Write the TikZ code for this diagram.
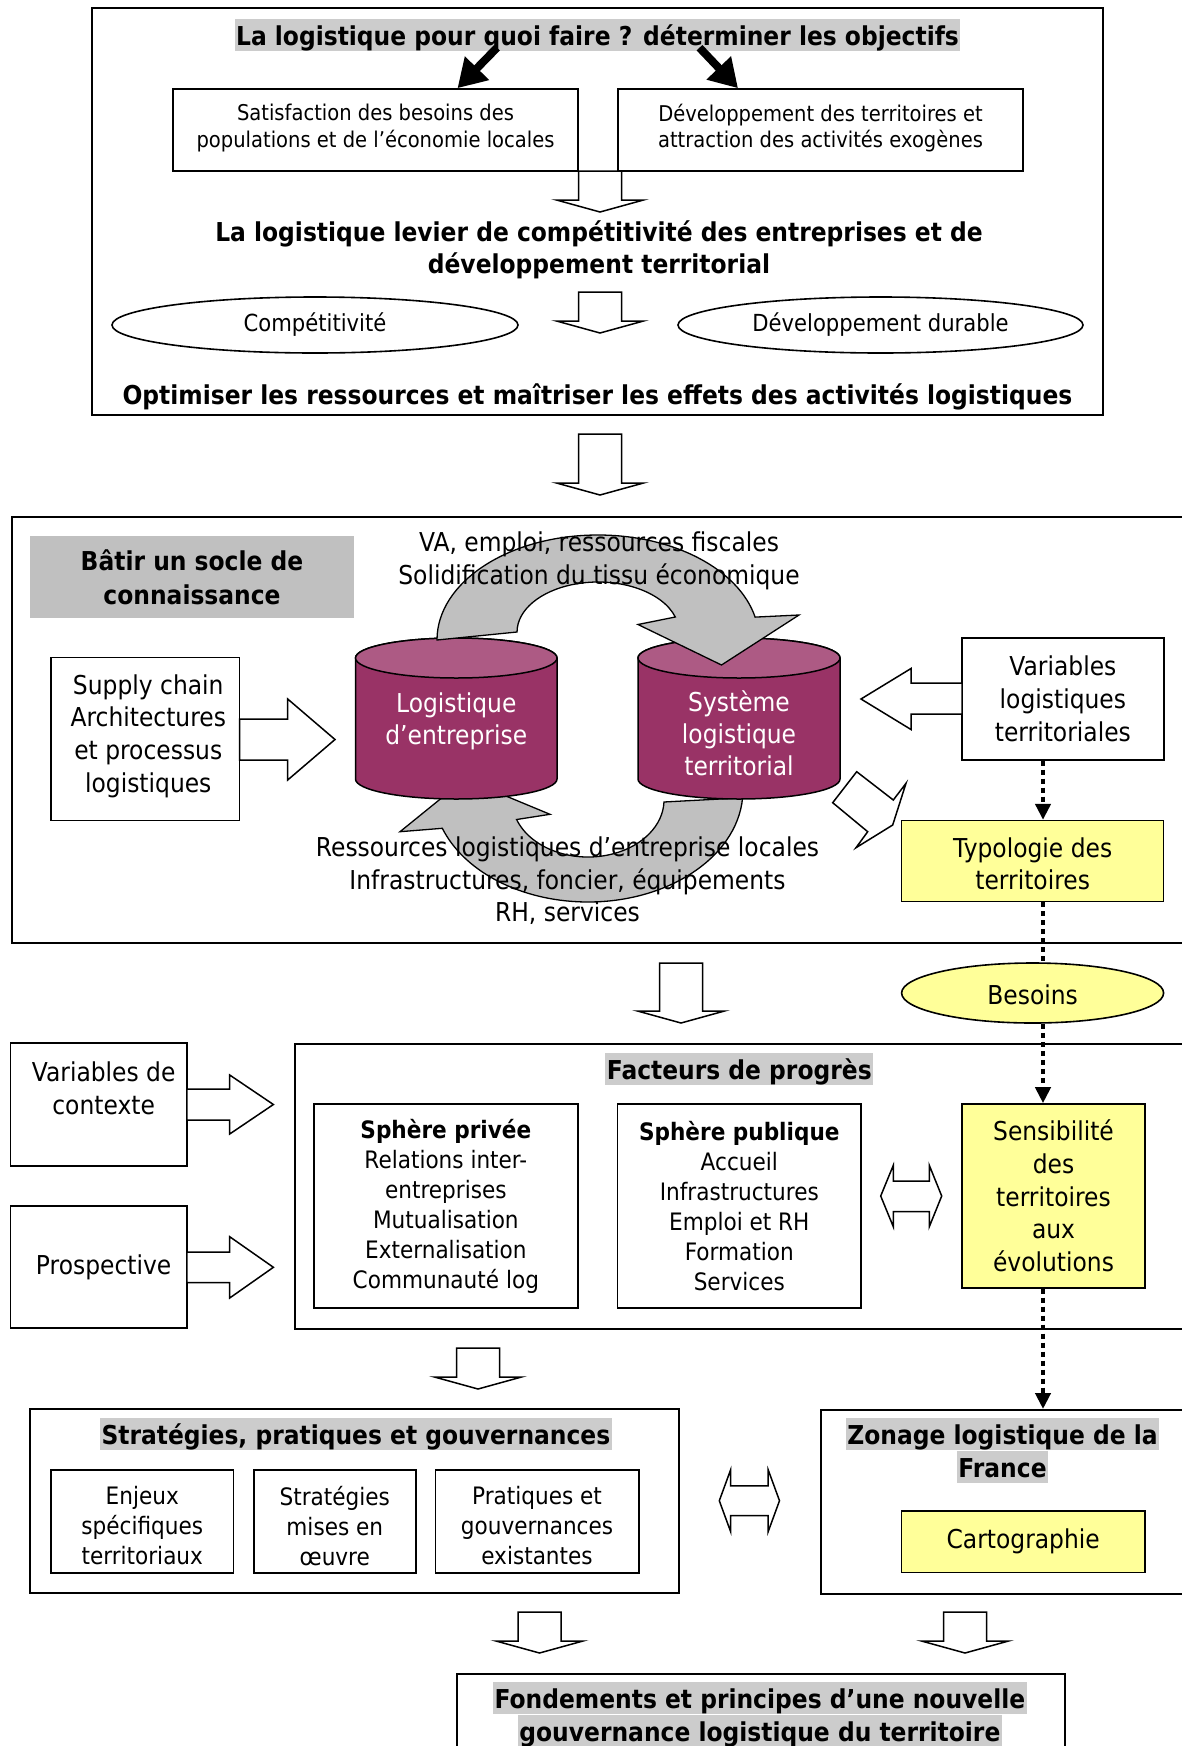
\documentclass[tikz,border=0pt]{standalone}
\usepackage{fontspec}
\setmainfont{DejaVu Sans}[FakeStretch=0.9]
\usetikzlibrary{positioning,arrows.meta,shapes.geometric,calc}

\definecolor{plum}{HTML}{993366}
\definecolor{plumtop}{HTML}{AD5A84}
\definecolor{paleyellow}{HTML}{FFFF99}
\definecolor{swirlgray}{HTML}{C0C0C0}
\definecolor{hlgray}{HTML}{CCCCCC}

\begin{document}
\begin{tikzpicture}[x=1pt,y=-1pt,
  panel/.style={draw,line width=2pt,inner sep=0pt},
  box/.style={draw,line width=1.6pt,align=center,inner sep=0pt,font=\fontsize{26}{32.6}\selectfont},
  smallbox/.style={box,font=\fontsize{21.7}{26.7}\selectfont},
  listbox/.style={box,font=\fontsize{24}{30}\selectfont},
  yellowbox/.style={box,fill=paleyellow},
  oval/.style={box,ellipse},
  inner text/.style={draw=none,fill=none,minimum size=0pt},
  hl/.style={fill=hlgray,inner xsep=1.5pt,inner ysep=2pt,text height=24.5pt,text depth=3.5pt,
    font=\fontsize{26}{31}\selectfont\bfseries},
  heading/.style={align=center,inner sep=0pt,font=\fontsize{26}{32.3}\selectfont\bfseries},
  txt/.style={align=center,inner sep=0pt,font=\fontsize{26}{32.6}\selectfont},
  cyltext/.style={txt,text=white,font=\fontsize{26}{32}\selectfont},
  block/.style={draw,fill=white,line width=1.5pt,line join=miter},
  swirl/.style={draw,fill=swirlgray,line width=1.3pt},
  cylinder body/.style={fill=plum,draw,line width=1.5pt},
  dotline/.style={line width=4pt,dash pattern=on 5pt off 4pt},
  dotarrow/.style={dotline,-{Triangle[length=16pt,width=15pt]}},
  fat/.style={line width=8pt,-{Triangle[length=28pt,width=32pt]}},
  pics/down arrow/.style={code={
    \path[block] (-21.5,0) -- (21.5,0) -- (21.5,#1-12) -- (43.5,#1-12) -- (0,#1)
      -- (-43.5,#1-12) -- (-21.5,#1-12) -- cycle;}}]

  \useasboundingbox (0,0) rectangle (1181,1746);

  % objectifs
  \node[panel,minimum width=1011pt,minimum height=407pt] (objectifs) at (597.5,211.5) {};
  \node[hl] (quoi) at (597.5,34.5) {La logistique pour quoi faire ? déterminer les objectifs};
  \node[smallbox,minimum width=405pt,minimum height=82pt] (besoinsloc) at (375.5,130) {};
  \node[smallbox,inner text,yshift=2pt] at (besoinsloc)
    {Satisfaction des besoins des\\populations et de l’économie locales};
  \node[smallbox,minimum width=405pt,minimum height=82pt] (attract) at (820.5,130) {};
  \node[smallbox,inner text,yshift=2pt] at (attract)
    {Développement des territoires et\\attraction des activités exogènes};
  \draw[fat] ($(quoi.south)+(-100.5,-3)$) -- ($(besoinsloc.north)+(82,0)$);
  \draw[fat] ($(quoi.south)+(102,-3)$) -- ($(attract.north)+(-82.5,0)$);
  \pic at (600,171) {down arrow=41};
  \node[heading] (levier) at (599,250)
    {La logistique levier de compétitivité des entreprises et de\\développement territorial};
  \pic at (600,292) {down arrow=41};
  \node[oval,font=\fontsize{23.5}{28}\selectfont,minimum width=406pt,minimum height=56pt]
    (compet) at (315,325) {Compétitivité};
  \node[oval,font=\fontsize{23.5}{28}\selectfont,minimum width=405pt,minimum height=56pt]
    (durable) at (880.5,325) {Développement durable};
  \node[heading] (optim) at (597.5,396.5)
    {Optimiser les ressources et maîtriser les effets des activités logistiques};

  \pic at (600,434) {down arrow=61};

  % socle de connaissance
  \node[panel,anchor=north west,minimum width=1200pt,minimum height=426.3pt] (socle) at (10.5,515.7) {};
  \node[heading,fill=swirlgray,font=\fontsize{26}{34}\selectfont\bfseries,
    minimum width=324pt,minimum height=82pt] (batir) at (192,577) {Bâtir un socle de\\connaissance};
  \node[box,minimum width=188.5pt,minimum height=163pt] (supply) at (145.25,739) {};
  \node[box,inner text,yshift=3pt,xshift=3pt] at (supply)
    {Supply chain\\Architectures\\et processus\\logistiques};
  \path[block] (239.5,719) -- (287.7,719) -- (287.7,699) -- (335,739.5) -- (287.7,780)
    -- (287.7,760) -- (239.5,760) -- cycle;
  \node[box,minimum width=201.7pt,minimum height=121.7pt] (varlog) at (1062.85,698.85)
    {Variables\\logistiques\\territoriales};
  \path[block] (962,683) -- (911,683) -- (911,668.5) -- (861,699) -- (911,729.5)
    -- (911,714) -- (962,714) -- cycle;

  % lower swirl, behind the cylinders
  \path[swirl] (742.6,797.8) arc[start angle=-4,end angle=-160,x radius=155pt,y radius=112pt]
    -- (400,831.7) -- (465,779) -- (550,814.3) -- (516.6,819.5)
    arc[start angle=-160,end angle=-2,x radius=76pt,y radius=57pt] -- cycle;

  % cylinders
  \path[cylinder body] (355.5,658) -- (355.5,779)
    arc[start angle=180,end angle=360,x radius=100.75pt,y radius=20pt] -- (557,658)
    arc[start angle=0,end angle=180,x radius=100.75pt,y radius=20pt] -- cycle;
  \filldraw[fill=plumtop,line width=1.5pt] (456.25,658) ellipse[x radius=100.75pt,y radius=20pt];
  \path[cylinder body] (638,658) -- (638,779)
    arc[start angle=180,end angle=360,x radius=101pt,y radius=20pt] -- (840,658)
    arc[start angle=0,end angle=180,x radius=101pt,y radius=20pt] -- cycle;
  \filldraw[fill=plumtop,line width=1.5pt] (739,658) ellipse[x radius=101pt,y radius=20pt];

  % upper swirl
  \path[swirl] (437,640) arc[start angle=180,end angle=12.6,x radius=161pt,y radius=105pt]
    -- (799,615) -- (721.5,665) -- (638,624.5) -- (675.3,617)
    arc[start angle=17.46,end angle=180,x radius=81pt,y radius=50pt] -- cycle;

  \node[cyltext] (logent) at (456.25,721) {Logistique\\d’entreprise};
  \node[cyltext] (systerr) at (739,733.5) {Système\\logistique\\territorial};
  \node[txt] (retombees) at (599,561) {VA, emploi, ressources fiscales\\Solidification du tissu économique};
  \node[txt] (ressources) at (567.5,881)
    {Ressources logistiques d’entreprise locales\\Infrastructures, foncier, équipements\\RH, services};

  \path[block] (832.7,802.7) -- (856.7,771.7) -- (893.3,800) -- (906,783.3) -- (892.7,825)
    -- (856,847.7) -- (867.7,831.7) -- cycle;
  \node[yellowbox,minimum width=262pt,minimum height=81pt] (typo) at (1032.65,861.15) {};
  \node[box,inner text,yshift=-2.5pt] at (typo) {Typologie des\\territoires};

  \pic at (681,963) {down arrow=60};
  \node[oval,fill=paleyellow,minimum width=262pt,minimum height=60pt] (besoins) at (1032.6,993) {};
  \node[box,inner text,yshift=-2pt] at (besoins) {Besoins};

  % facteurs de progres
  \node[panel,anchor=north west,minimum width=900pt,minimum height=285pt] (progres) at (293.7,1043) {};
  \node[hl] (facteurs) at (739.3,1069.3) {Facteurs de progrès};
  \node[box,minimum width=176.3pt,minimum height=123pt] (contexte) at (98.65,1104.5)
    {\hspace*{10pt}Variables de\\\hspace*{10pt}contexte\\\mbox{}};
  \path[block] (186.8,1089) -- (229.7,1089) -- (229.7,1075) -- (273.4,1104.5) -- (229.7,1134)
    -- (229.7,1120) -- (186.8,1120) -- cycle;
  \node[box,minimum width=176.3pt,minimum height=122pt] (prosp) at (98.65,1267) {\hspace*{10pt}Prospective};
  \path[block] (186.8,1252) -- (229.7,1252) -- (229.7,1236.7) -- (273.4,1267.3) -- (229.7,1298)
    -- (229.7,1282.7) -- (186.8,1282.7) -- cycle;
  \node[listbox,minimum width=263.7pt,minimum height=204pt] (privee) at (445.85,1206)
    {\textbf{Sphère privée}\\Relations inter-\\entreprises\\Mutualisation\\Externalisation\\Communauté log};
  \node[listbox,minimum width=243.4pt,minimum height=204pt] (publique) at (739.3,1206)
    {\textbf{Sphère publique}\\Accueil\\Infrastructures\\Emploi et RH\\Formation\\Services};
  \path[block] (880.7,1196) -- (893.3,1165.3) -- (893.3,1181) -- (929.3,1181) -- (929.3,1165.3)
    -- (941.7,1196) -- (929.3,1226.7) -- (929.3,1211.7) -- (893.3,1211.7) -- (893.3,1226.7) -- cycle;
  \node[yellowbox,minimum width=183pt,minimum height=183.7pt] (sensib) at (1053.5,1195.85)
    {Sensibilité\\des\\territoires\\aux\\évolutions};

  \pic at (478,1348) {down arrow=41};

  % strategies
  \node[panel,minimum width=649.4pt,minimum height=183.7pt] (strat) at (354.7,1500.85) {};
  \node[hl] (strattitle) at (355.9,1434.3) {Stratégies, pratiques et gouvernances};
  \node[listbox,minimum width=182.5pt,minimum height=102.7pt] (enjeux) at (142.25,1521.35) {};
  \node[listbox,inner text,yshift=-4.5pt] at (enjeux) {Enjeux\\spécifiques\\territoriaux};
  \node[listbox,minimum width=162pt,minimum height=102.7pt] (misesoeuvre) at (334.8,1521.35) {};
  \node[listbox,inner text,yshift=-4.5pt] at (misesoeuvre) {Stratégies\\mises en\\œuvre};
  \node[listbox,minimum width=203.4pt,minimum height=102.7pt] (pratiques) at (537,1521.35) {};
  \node[listbox,inner text,yshift=-4.5pt] at (pratiques) {Pratiques et\\gouvernances\\existantes};
  \path[block] (719.3,1500.7) -- (730.6,1469.85) -- (730.6,1485.85) -- (768.2,1485.85)
    -- (768.2,1469.85) -- (779.5,1500.7) -- (768.2,1531.55) -- (768.2,1515.55)
    -- (730.6,1515.55) -- (730.6,1531.55) -- cycle;

  % zonage
  \node[panel,anchor=north west,minimum width=400pt,minimum height=183.7pt] (zonage) at (819.5,1409) {};
  \node[hl] (zonetitle) at (1002.5,1434.35) {Zonage logistique de la};
  \node[hl,below=0pt of zonetitle] (france) {France};
  \node[yellowbox,minimum width=243.2pt,minimum height=61.3pt] (carto) at (1023.2,1541.65) {Cartographie};

  \pic at (539.5,1612) {down arrow=41};
  \pic at (965,1612) {down arrow=41};

  % fondements
  \node[panel,anchor=north west,minimum width=607.8pt,minimum height=200pt] (fondements) at (455.7,1673.3) {};
  \node[hl] (fondtitle) at (759.9,1698.3) {Fondements et principes d’une nouvelle};
  \node[hl,below=0pt of fondtitle] (gouvtitle) {gouvernance logistique du territoire};

  % liens pointilles
  \coordinate (dotx) at (1043,0);
  \draw[dotarrow] (varlog.south -| dotx) -- (typo.north -| dotx);
  \draw[dotline] (typo.south -| dotx) -- (besoins.north -| dotx);
  \draw[dotarrow] (besoins.south -| dotx) -- (sensib.north -| dotx);
  \draw[dotarrow] (sensib.south -| dotx) -- (zonage.north -| dotx);
\end{tikzpicture}
\end{document}
